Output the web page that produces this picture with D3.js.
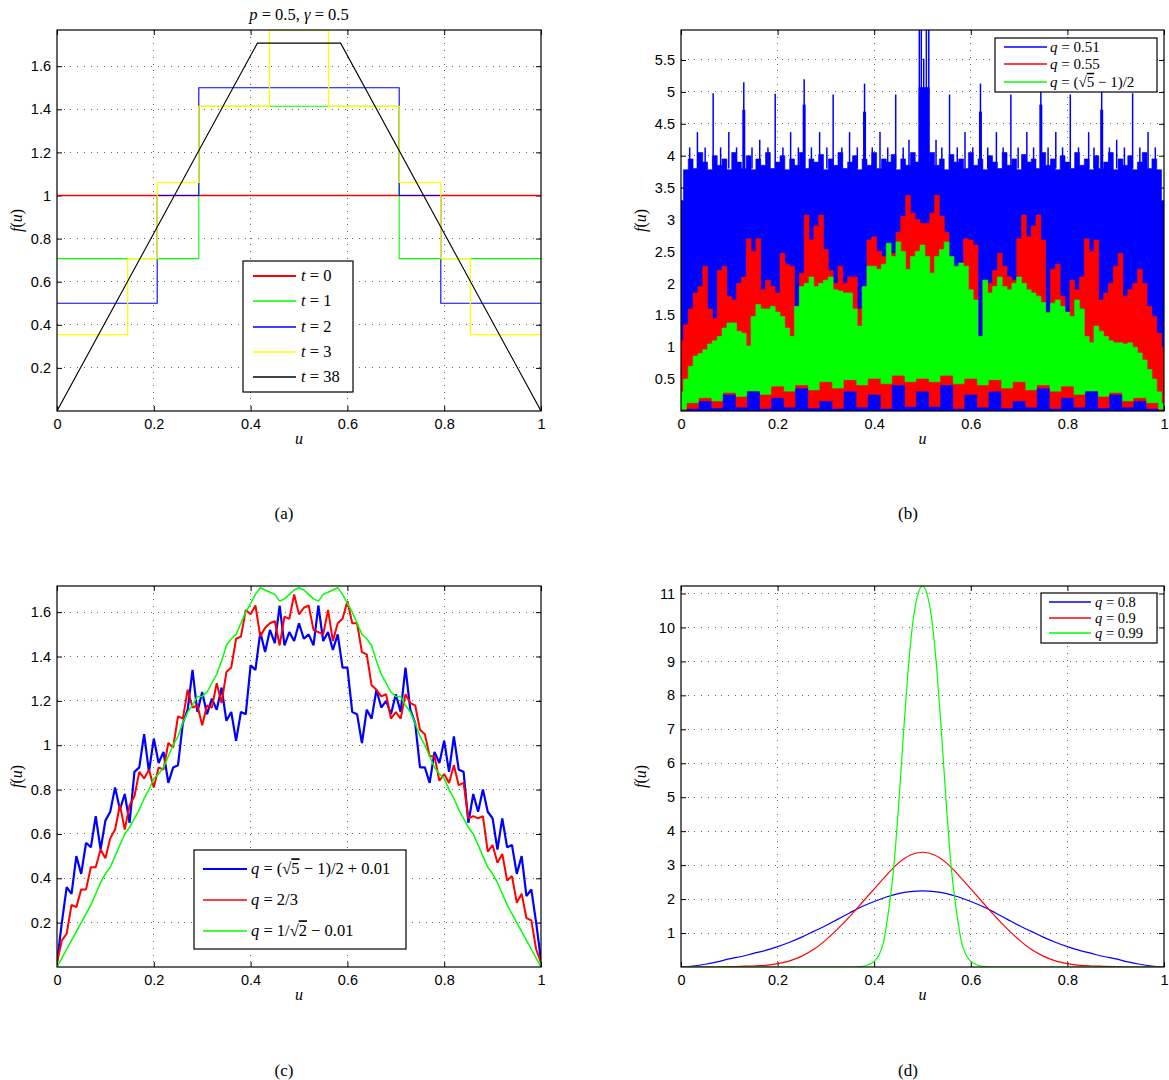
<!DOCTYPE html>
<html>
<head>
<meta charset="utf-8">
<script src="https://cdn.jsdelivr.net/npm/d3@7"></script>
<style>
  body { margin: 0; background: #fff; }
</style>
</head>
<body>
<script>
// shared x ticks
const uTicks = [0, 0.2, 0.4, 0.6, 0.8, 1];

// ---- (a) p = 0.5, gamma = 0.5 : iterates t = 0,1,2,3 (steps) and t = 38
const aYMax = 1.768;
const aYTicks = [0.2, 0.4, 0.6, 0.8, 1, 1.2, 1.4, 1.6];
const aT0Edges = [0, 1], aT0Vals = [1];
const aT1Edges = [0, 0.293, 0.707, 1], aT1Vals = [0.707, 1.414, 0.707];
const aT2Edges = [0, 0.207, 0.293, 0.707, 0.793, 1], aT2Vals = [0.5, 1, 1.5, 1, 0.5];
const aT3Edges = [0, 0.146, 0.207, 0.293, 0.439, 0.561, 0.707, 0.793, 0.854, 1];
const aT3Vals = [0.354, 0.707, 1.061, 1.414, 1.768, 1.414, 1.061, 0.707, 0.354];
const aT38U = [0, 0.414, 0.586, 1], aT38F = [0, 1.707, 1.707, 0];

// ---- (b) dense densities, kept as upper / lower envelopes
const bYMax = 5.97;
const bYTicks = [0.5, 1, 1.5, 2, 2.5, 3, 3.5, 4, 4.5, 5, 5.5];
const bBlueTop = [3.3,3.78,3.95,3.8,4.05,3.9,3.78,4.0,3.85,3.95,
  3.78,4.05,3.9,3.8,4.0,3.78,3.95,3.85,4.05,3.8,
  3.9,4.0,3.78,3.95,3.85,4.05,3.8,3.95,3.9,4.02,
  3.78,3.95,3.85,4.05,3.8,3.9,4.0,3.78,3.95,3.85,
  4.05,3.8,3.95,3.9,4.02,3.78,3.95,3.85,4.05,3.9,
  4.05,
  3.9,4.05,3.85,3.95,3.78,4.02,3.9,3.95,3.8,4.05,
  3.85,3.95,3.78,4.0,3.9,3.8,4.05,3.85,3.95,3.78,
  4.02,3.9,3.95,3.8,4.05,3.85,3.95,3.78,4.0,3.9,
  3.8,4.05,3.85,3.95,3.78,4.0,3.8,3.9,4.05,3.78,
  3.95,3.85,4.0,3.78,3.9,4.05,3.8,3.95,3.78,3.3];
const bSpikeU = [0.0666,0.130,0.195,0.255,0.315,0.380,0.4445,0.556,0.620,0.683,0.745,0.806,0.871,0.935,
  0.4934,0.4975,0.5025,0.508,0.513,
  0.034,0.099,0.163,0.227,0.287,0.349,0.412,0.472,0.528,0.588,0.653,0.716,0.776,0.844,0.902,0.967,
  0.018,0.05,0.082,0.115,0.147,0.18,0.211,0.243,0.27,0.302,0.333,0.365,0.396,0.428,0.46,
  0.54,0.572,0.604,0.635,0.667,0.698,0.73,0.76,0.79,0.823,0.855,0.887,0.918,0.95,0.982];
const bSpikeH = [4.98,5.15,4.97,5.2,4.96,5.13,4.96,4.96,5.13,4.96,5.2,4.96,5.15,4.98,
  6.2,6.2,5.52,6.2,6.2,
  4.37,4.37,4.25,4.37,4.37,4.37,4.37,4.25,4.25,4.37,4.37,4.37,4.37,4.37,4.25,4.37,
  4.13,4.13,4.13,4.13,4.13,4.13,4.13,4.13,4.13,4.13,4.13,4.13,4.13,4.13,4.13,
  4.13,4.13,4.13,4.13,4.13,4.13,4.13,4.13,4.13,4.13,4.13,4.13,4.13,4.13,4.13];
const bThickU = [0.130,0.255,0.380,0.620,0.745,0.871,0.495,0.4985,0.502,0.5055,0.509,0.5115];
const bThickH = [4.72,4.8,4.69,4.69,4.8,4.72,5.07,5.07,5.07,5.07,5.07,5.07];
const bRedTop = [1.1,1.35,1.6,1.85,1.95,2.27,1.6,1.45,2.2,2.27,
  1.8,1.74,2.0,2.1,2.7,2.5,2.7,1.9,2.05,1.95,
  1.85,2.47,2.3,2.27,1.54,2.16,3.07,2.68,2.9,3.07,
  2.53,2.2,2.0,2.27,2.0,2.1,2.1,1.6,1.48,2.68,
  2.73,2.5,2.42,2.47,2.47,2.8,3.05,3.38,3.1,3.0,
  2.94,
  2.94,3.1,3.38,3.05,2.8,2.3,2.1,1.85,2.7,2.68,
  2.6,1.12,2.05,2.0,2.2,2.47,2.27,2.1,2.05,2.7,
  3.07,2.73,2.9,3.07,2.68,1.54,2.22,2.3,1.8,1.48,
  2.05,1.9,2.1,2.7,2.5,2.68,1.74,1.85,2.0,2.27,
  2.47,1.8,1.9,2.0,2.22,2.0,1.64,1.48,1.22,1.0];
const bRedLow = [0.0,0.03,0.15,0.04,0.25,0.05,0.3,0.03,0.2,0.05,
  0.35,0.04,0.15,0.03,0.3,0.05,0.25,0.03,0.4,0.06,
  0.3,
  0.06,0.4,0.03,0.25,0.05,0.3,0.04,0.15,0.05,0.35,
  0.03,0.2,0.05,0.3,0.04,0.25,0.05,0.15,0.03,0.0];
const bGreenTop = [0.3,0.5,0.7,0.86,0.9,0.96,1.05,1.1,1.17,1.3,
  1.38,1.38,1.25,1.22,1.02,1.48,1.67,1.6,1.6,1.64,
  1.55,1.48,1.3,1.17,1.64,1.95,2.0,2.1,1.95,2.0,
  2.05,2.1,1.9,1.88,1.85,1.85,1.6,1.33,1.95,2.27,
  2.27,2.22,2.3,2.63,2.42,2.65,2.5,2.22,2.42,2.5,
  2.6,
  2.42,2.16,2.42,2.53,2.65,2.42,2.27,2.32,2.27,1.9,
  1.74,1.17,2.05,1.85,1.95,2.1,1.95,1.9,2.0,2.1,
  2.0,1.9,1.85,1.8,1.7,1.54,1.69,1.74,1.64,1.55,
  1.48,1.74,1.6,1.17,1.07,1.33,1.25,1.17,1.1,1.07,
  1.07,1.05,1.07,1.0,0.91,0.8,0.65,0.5,0.3,0.12];
const bGreenLow = [0.02,0.12,0.2,0.15,0.28,0.22,0.3,0.25,0.38,0.3,
  0.4,0.32,0.45,0.35,0.48,0.4,0.5,0.42,0.55,0.45,
  0.5,
  0.45,0.55,0.42,0.5,0.4,0.48,0.35,0.45,0.32,0.4,
  0.3,0.38,0.25,0.3,0.22,0.28,0.15,0.2,0.12,0.02];

// ---- (c) three noisy densities, sampled every 0.01
const cYMax = 1.718;
const cYTicks = [0.2, 0.4, 0.6, 0.8, 1, 1.2, 1.4, 1.6];
const cBlue = [0.02,0.2,0.36,0.33,0.5,0.42,0.56,0.54,0.68,0.53,
  0.66,0.7,0.81,0.71,0.78,0.65,0.88,0.9,1.05,0.88,
  1.03,0.92,0.97,0.83,0.9,0.91,1.1,1.16,1.34,1.15,
  1.24,1.14,1.21,1.16,1.26,1.11,1.15,1.02,1.15,1.14,
  1.36,1.34,1.51,1.42,1.52,1.46,1.63,1.45,1.51,1.47,
  1.55,
  1.48,1.5,1.45,1.63,1.47,1.51,1.43,1.5,1.35,1.35,
  1.15,1.14,1.01,1.16,1.12,1.25,1.17,1.2,1.14,1.23,
  1.15,1.35,1.16,1.1,0.9,0.9,0.83,0.97,0.92,1.02,
  0.88,1.04,0.89,0.88,0.65,0.78,0.7,0.8,0.7,0.67,
  0.53,0.67,0.54,0.55,0.42,0.5,0.32,0.35,0.2,0.03];
const cRed = [0.02,0.12,0.15,0.28,0.27,0.35,0.35,0.45,0.45,0.53,
  0.49,0.58,0.62,0.73,0.62,0.73,0.77,0.88,0.85,0.89,
  0.81,0.9,0.89,1.01,0.99,1.13,1.12,1.25,1.17,1.18,
  1.09,1.18,1.17,1.28,1.19,1.33,1.35,1.48,1.49,1.61,
  1.59,1.63,1.49,1.53,1.55,1.56,1.45,1.58,1.57,1.68,
  1.59,
  1.62,1.63,1.52,1.51,1.5,1.61,1.47,1.55,1.57,1.65,
  1.55,1.55,1.42,1.41,1.27,1.25,1.22,1.23,1.12,1.15,
  1.12,1.23,1.19,1.18,1.07,1.05,0.95,0.95,0.84,0.87,
  0.83,0.91,0.82,0.83,0.67,0.68,0.67,0.68,0.52,0.55,
  0.47,0.51,0.39,0.41,0.29,0.33,0.22,0.21,0.08,0.02];
const cGreen = [0,0.04,0.08,0.12,0.16,0.2,0.24,0.28,0.33,0.38,
  0.42,0.45,0.5,0.55,0.6,0.63,0.67,0.71,0.76,0.8,
  0.85,0.87,0.9,0.95,1.0,1.04,1.1,1.15,1.18,1.22,
  1.22,1.24,1.28,1.32,1.38,1.45,1.48,1.5,1.55,1.6,
  1.64,1.68,1.71,1.7,1.69,1.68,1.65,1.66,1.68,1.7,
  1.71,
  1.7,1.68,1.66,1.65,1.68,1.69,1.7,1.71,1.68,1.64,
  1.6,1.55,1.5,1.48,1.45,1.38,1.32,1.28,1.24,1.22,
  1.22,1.18,1.15,1.1,1.04,1.0,0.95,0.9,0.87,0.85,
  0.8,0.76,0.71,0.67,0.63,0.6,0.55,0.5,0.45,0.42,
  0.38,0.33,0.28,0.24,0.2,0.16,0.12,0.08,0.04,0];

// ---- (d) smooth densities, q = 0.8, 0.9 (every 0.025) and q = 0.99
const dYMax = 11.22;
const dYTicks = [1, 2, 3, 4, 5, 6, 7, 8, 9, 10, 11];
const dBlue = [0,0.03,0.08,0.15,0.24,0.31,0.4,0.49,0.6,0.73,0.88,1.05,1.22,1.41,1.6,1.78,1.93,2.06,2.16,2.22,
  2.24,
  2.22,2.16,2.06,1.93,1.78,1.6,1.41,1.22,1.05,0.88,0.73,0.6,0.49,0.4,0.31,0.24,0.15,0.08,0.03,0];
const dRed = [0,0,0,0,0.01,0.02,0.03,0.05,0.1,0.18,0.32,0.52,0.8,1.13,1.5,1.9,2.3,2.7,3.06,3.3,
  3.38,
  3.3,3.06,2.7,2.3,1.9,1.5,1.13,0.8,0.52,0.32,0.18,0.1,0.05,0.03,0.02,0.01,0,0,0,0];
const dGreenU = [0,0.35,0.36,0.37,0.38,0.39,0.40,0.41,0.42,0.43,0.44,0.45,0.46,0.47,0.48,0.49,
  0.50,0.51,0.52,0.53,0.54,0.55,0.56,0.57,0.58,0.59,0.60,0.61,0.62,0.63,0.64,0.65,1];
const dGreen = [0,0,0,0.01,0.03,0.08,0.17,0.35,0.78,1.68,2.86,4.65,6.75,8.7,10.15,10.95,
  11.22,10.95,10.15,8.7,6.75,4.65,2.86,1.68,0.78,0.35,0.17,0.08,0.03,0.01,0,0,0];

const RED = "#ff0000", GREEN = "#00ff00", BLUE = "#0000ff", YELLOW = "#ffff00";
const SERIF = "'Liberation Serif','Times New Roman',serif";
const SANS = "'Liberation Sans',Arial,Helvetica,sans-serif";

const svg = d3.select("body").append("svg")
  .attr("width", 1169).attr("height", 1080)
  .style("background", "#fff");

// write math-like text from parts: [string, "i" italic | "o" overline | ""]
function mathText(sel, parts) {
  parts.forEach(p => {
    const t = sel.append("tspan").text(p[0]);
    if (p[1] === "i") t.attr("font-style", "italic");
    if (p[1] === "o") t.style("text-decoration", "overline");
  });
  return sel;
}

function panel(id, x0, x1, y0, y1, yMax, yTicks) {
  const x = d3.scaleLinear().domain([0, 1]).range([x0, x1]);
  const y = d3.scaleLinear().domain([0, yMax]).range([y1, y0]);
  const g = svg.append("g").attr("id", id);
  svg.append("clipPath").attr("id", "clip-" + id).append("rect")
    .attr("x", x0).attr("y", y0).attr("width", x1 - x0).attr("height", y1 - y0);

  const grid = g.append("g");
  grid.selectAll("line.gx").data(uTicks.slice(1, -1)).join("line").attr("class", "gx")
    .attr("x1", d => x(d)).attr("x2", d => x(d)).attr("y1", y0).attr("y2", y1);
  grid.selectAll("line.gy").data(yTicks).join("line").attr("class", "gy")
    .attr("x1", x0).attr("x2", x1).attr("y1", d => y(d)).attr("y2", d => y(d));
  grid.selectAll("line").attr("stroke", "#666").attr("stroke-width", 1)
    .attr("stroke-dasharray", "1,5.7").attr("shape-rendering", "crispEdges");

  const fmt = d => String(d);
  const axes = [
    g.append("g").attr("transform", `translate(0,${y1})`)
      .call(d3.axisBottom(x).tickValues(uTicks).tickSize(-5).tickPadding(8).tickFormat(fmt)),
    g.append("g").attr("transform", `translate(0,${y0})`)
      .call(d3.axisTop(x).tickValues(uTicks).tickSize(-5).tickFormat("")),
    g.append("g").attr("transform", `translate(${x0},0)`)
      .call(d3.axisLeft(y).tickValues(yTicks).tickSize(-5).tickPadding(6).tickFormat(fmt)),
    g.append("g").attr("transform", `translate(${x1},0)`)
      .call(d3.axisRight(y).tickValues(yTicks).tickSize(-5).tickFormat(""))
  ];
  axes.forEach(a => {
    a.select(".domain").remove();
    a.attr("font-family", SANS).attr("font-size", 14.5);
    a.selectAll("text").attr("fill", "#000");
    a.selectAll("line").attr("stroke", "#000");
  });

  const data = g.append("g").attr("clip-path", `url(#clip-${id})`);
  g.append("rect").attr("x", x0).attr("y", y0).attr("width", x1 - x0).attr("height", y1 - y0)
    .attr("fill", "none").attr("stroke", "#000").attr("stroke-width", 1.2);

  mathText(g.append("text").attr("x", (x0 + x1) / 2).attr("y", y1 + 33)
    .attr("text-anchor", "middle").attr("font-family", SERIF).attr("font-size", 16), [["u", "i"]]);
  mathText(g.append("text").attr("transform", `translate(${x0 - 35},${(y0 + y1) / 2}) rotate(-90)`)
    .attr("text-anchor", "middle").attr("font-family", SERIF).attr("font-size", 16),
    [["f", "i"], ["(", ""], ["u", "i"], [")", ""]]);
  return { x, y, g, data };
}

function legend(g, box, lx0, lx1, tx, fs, rows) {
  const lg = g.append("g");
  lg.append("rect").attr("x", box[0]).attr("y", box[1]).attr("width", box[2]).attr("height", box[3])
    .attr("fill", "#fff").attr("stroke", "#000").attr("stroke-width", 1.2);
  rows.forEach(r => {
    lg.append("line").attr("x1", lx0).attr("x2", lx1).attr("y1", r.y).attr("y2", r.y)
      .attr("stroke", r.color).attr("stroke-width", r.w || 1.3);
    mathText(lg.append("text").attr("x", tx).attr("y", r.y + fs * 0.32)
      .attr("font-family", SERIF).attr("font-size", fs).attr("fill", "#000"), r.parts);
  });
}

const gridPts = vals => vals.map((v, i) => [i / (vals.length - 1), v]);
const stepPts = (edges, vals) => edges.map((e, i) => [e, vals[Math.min(i, vals.length - 1)]]);

function caption(x, y, s) {
  svg.append("text").attr("x", x).attr("y", y).attr("text-anchor", "middle")
    .attr("font-family", SERIF).attr("font-size", 17).text(s);
}

// ================= (a)
{
  const P = panel("a", 57, 541, 30, 411, aYMax, aYTicks);
  const step = d3.line().x(d => P.x(d[0])).y(d => P.y(d[1])).curve(d3.curveStepAfter);
  const lin = d3.line().x(d => P.x(d[0])).y(d => P.y(d[1]));
  const series = [
    { pts: stepPts(aT0Edges, aT0Vals), c: RED, w: 1.6, gen: step },
    { pts: stepPts(aT1Edges, aT1Vals), c: GREEN, w: 1.1, gen: step },
    { pts: stepPts(aT2Edges, aT2Vals), c: BLUE, w: 1.1, gen: step },
    { pts: stepPts(aT3Edges, aT3Vals), c: YELLOW, w: 1.3, gen: step },
    { pts: aT38U.map((u, i) => [u, aT38F[i]]), c: "#000", w: 1.1, gen: lin }
  ];
  series.forEach(s => P.data.append("path").attr("d", s.gen(s.pts))
    .attr("fill", "none").attr("stroke", s.c).attr("stroke-width", s.w));

  const title = P.g.append("text").attr("x", 299).attr("y", 20).attr("text-anchor", "middle")
    .attr("font-family", SERIF).attr("font-size", 16.5);
  mathText(title, [["p", "i"], [" = 0.5, ", ""], ["γ", "i"], [" = 0.5", ""]]);

  legend(P.g, [243, 261, 110, 131], 253, 296, 301, 16.5, [
    { y: 276, color: RED, parts: [["t", "i"], [" = 0", ""]], w: 1.8 },
    { y: 301, color: GREEN, parts: [["t", "i"], [" = 1", ""]] },
    { y: 327, color: BLUE, parts: [["t", "i"], [" = 2", ""]] },
    { y: 352, color: YELLOW, parts: [["t", "i"], [" = 3", ""]] },
    { y: 377, color: "#000", parts: [["t", "i"], [" = 38", ""]] }
  ]);
  caption(284, 519, "(a)");
}

// ================= (b)
{
  const P = panel("b", 681, 1164, 30, 411, bYMax, bYTicks);
  // filled from the axis up to an envelope, stepwise like the dense original traces
  const fill = (vals, color) => P.data.append("path")
    .attr("d", d3.area().x(d => P.x(d[0])).y0(P.y(0)).y1(d => P.y(d[1]))
      .curve(d3.curveStep)(gridPts(vals)))
    .attr("fill", color).attr("stroke", color).attr("stroke-width", 0.6);

  fill(bBlueTop, BLUE);
  P.data.selectAll("line.sp").data(bSpikeU).join("line").attr("class", "sp")
    .attr("x1", d => P.x(d)).attr("x2", d => P.x(d))
    .attr("y1", P.y(3.8)).attr("y2", (d, i) => P.y(bSpikeH[i]))
    .attr("stroke", BLUE).attr("stroke-width", 1.5);
  P.data.selectAll("line.tk").data(bThickU).join("line").attr("class", "tk")
    .attr("x1", d => P.x(d)).attr("x2", d => P.x(d))
    .attr("y1", P.y(3.8)).attr("y2", (d, i) => P.y(bThickH[i]))
    .attr("stroke", BLUE).attr("stroke-width", 3);
  fill(bRedTop, RED);
  fill(bGreenTop, GREEN);
  // below each lower envelope the previous trace shows through
  fill(bGreenLow, RED);
  fill(bRedLow, BLUE);

  legend(P.g, [995, 38, 162, 54], 1004, 1047, 1050, 15, [
    { y: 47, color: BLUE, parts: [["q", "i"], [" = 0.51", ""]] },
    { y: 64, color: RED, parts: [["q", "i"], [" = 0.55", ""]] },
    { y: 82, color: GREEN, parts: [["q", "i"], [" = (√", ""], ["5", "o"], [" − 1)/2", ""]] }
  ]);
  caption(908, 519, "(b)");
}

// ================= (c)
{
  const P = panel("c", 57, 541, 586, 967, cYMax, cYTicks);
  const lin = d3.line().x(d => P.x(d[0])).y(d => P.y(d[1]));
  [[cBlue, BLUE, 2.2], [cRed, RED, 2.0], [cGreen, GREEN, 1.5]].forEach(s =>
    P.data.append("path").attr("d", lin(gridPts(s[0])))
      .attr("fill", "none").attr("stroke", s[1]).attr("stroke-width", s[2]).attr("stroke-linejoin", "bevel"));

  legend(P.g, [194, 850, 212, 99], 203, 247, 251, 16.5, [
    { y: 869, color: BLUE, w: 2.2, parts: [["q", "i"], [" = (√", ""], ["5", "o"], [" − 1)/2 + 0.01", ""]] },
    { y: 900, color: RED, parts: [["q", "i"], [" = 2/3", ""]] },
    { y: 931, color: GREEN, parts: [["q", "i"], [" = 1/√", ""], ["2", "o"], [" − 0.01", ""]] }
  ]);
  caption(284, 1076, "(c)");
}

// ================= (d)
{
  const P = panel("d", 681, 1164, 586, 967, dYMax, dYTicks);
  const smooth = d3.line().x(d => P.x(d[0])).y(d => P.y(d[1])).curve(d3.curveMonotoneX);
  P.data.append("path").attr("d", smooth(gridPts(dBlue)))
    .attr("fill", "none").attr("stroke", BLUE).attr("stroke-width", 1.2);
  P.data.append("path").attr("d", smooth(gridPts(dRed)))
    .attr("fill", "none").attr("stroke", RED).attr("stroke-width", 1.2);
  P.data.append("path").attr("d", smooth(dGreenU.map((u, i) => [u, dGreen[i]])))
    .attr("fill", "none").attr("stroke", GREEN).attr("stroke-width", 1.2);

  legend(P.g, [1041, 593, 116, 50], 1049, 1091, 1095, 14.5, [
    { y: 602, color: BLUE, parts: [["q", "i"], [" = 0.8", ""]] },
    { y: 618, color: RED, parts: [["q", "i"], [" = 0.9", ""]] },
    { y: 633, color: GREEN, parts: [["q", "i"], [" = 0.99", ""]] }
  ]);
  caption(908, 1076, "(d)");
}
</script>
</body>
</html>
